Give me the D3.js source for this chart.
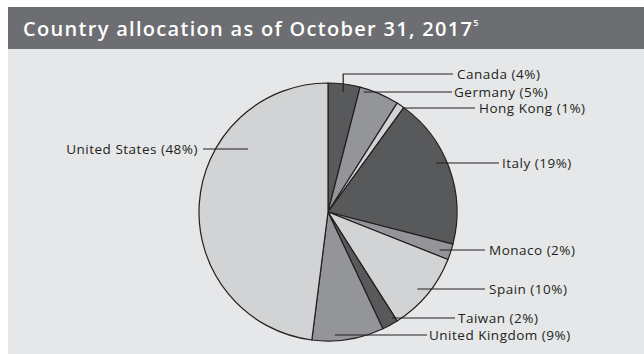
<!DOCTYPE html>
<html>
<head>
<meta charset="utf-8">
<script src="https://cdn.jsdelivr.net/npm/d3@7/dist/d3.min.js"></script>
<style>
  html, body { margin: 0; padding: 0; background: #ffffff; }
  svg { display: block; }
</style>
</head>
<body>
<svg id="chart" width="644" height="354"></svg>
<script>
// Country allocation, percent of fund
const countries = ["Canada", "Germany", "Hong Kong", "Italy", "Monaco", "Spain", "Taiwan", "United Kingdom", "United States"];
const weights   = [4, 5, 1, 19, 2, 10, 2, 9, 48];
const titleText = "Country allocation as of October 31, 2017";
const footnote  = "5";

// Slice fills cycle dark / mid / light grey
const shades = ["#58595b", "#939598", "#d1d3d4"];

// Label layout: label line height, text start, and where the leader meets the slice (fraction of radius)
const labelY    = [74, 92, 108, 163, 250, 289, 318, 335, 149];
const labelX    = [457, 454, 479, 502, 489, 489, 458, 429, 198];
const leaderEnd = [453, 452, 475, 499, 485, 485, 455, 427, 203];
const leaderR   = [0.94, 0.97, 0.99, 0.92, 0.915, 0.915, 0.96, 0.955, 0.79];

const W = 644, H = 354;
const svg = d3.select("#chart");

// Background panel and title band
svg.append("rect").attr("x", 8).attr("y", 49).attr("width", W - 8).attr("height", H - 49).attr("fill", "#e6e7e8");
svg.append("rect").attr("x", 8).attr("y", 7).attr("width", W - 8).attr("height", 42).attr("fill", "#6d6e71");

const title = svg.append("text")
  .attr("x", 23).attr("y", 36)
  .attr("fill", "#ffffff")
  .attr("font-family", "'Open Sans', sans-serif")
  .attr("font-weight", 600)
  .attr("font-size", 20)
  .attr("letter-spacing", 1.3)
  .text(titleText);
title.append("tspan")
  .attr("dx", 0).attr("dy", -10)
  .attr("font-size", 9)
  .attr("letter-spacing", 0)
  .text(footnote);

// Pie
const cx = 328, cy = 212, r = 129;
const data = countries.map((c, i) => ({ country: c, value: weights[i], i }));
const pie = d3.pie().value(d => d.value).sort(null).startAngle(0).endAngle(2 * Math.PI);
const arcs = pie(data);
const arc = d3.arc().innerRadius(0).outerRadius(r);
const color = d3.scaleOrdinal().domain(countries).range(shades);

const g = svg.append("g").attr("transform", `translate(${cx},${cy})`);
g.selectAll("path.slice")
  .data(arcs)
  .join("path")
  .attr("class", "slice")
  .attr("d", arc)
  .attr("fill", d => color(d.data.country))
  .attr("stroke", "#231f20")
  .attr("stroke-width", 1.2)
  .attr("stroke-linejoin", "round");

// Leader lines and labels
const labels = svg.append("g");
arcs.forEach((a, i) => {
  const mid = (a.startAngle + a.endAngle) / 2;
  const rr = leaderR[i] * r;
  const ly = labelY[i];
  let pts;
  const side = Math.sin(mid) >= 0 ? 1 : -1;
  const dy = ly - cy;
  if (Math.abs(dy) < rr) {
    const sx = cx + side * Math.sqrt(rr * rr - dy * dy);
    pts = [[sx, ly], [leaderEnd[i], ly]];
  } else {
    // leader rises from the slice centre line, then turns toward the label
    const sx = cx + rr * Math.sin(mid);
    const sy = cy - rr * Math.cos(mid);
    pts = [[sx, sy], [sx, ly], [leaderEnd[i], ly]];
  }
  labels.append("path")
    .attr("d", d3.line()(pts))
    .attr("fill", "none")
    .attr("stroke", "#231f20")
    .attr("stroke-width", 1.2);
  labels.append("text")
    .attr("x", labelX[i])
    .attr("y", ly)
    .attr("dy", "0.36em")
    .attr("text-anchor", side > 0 ? "start" : "end")
    .attr("fill", "#231f20")
    .attr("font-family", "'Open Sans', sans-serif")
    .attr("font-size", 13.5)
    .attr("letter-spacing", 0.5)
    .text(`${a.data.country} (${a.data.value}%)`);
});
</script>
</body>
</html>
